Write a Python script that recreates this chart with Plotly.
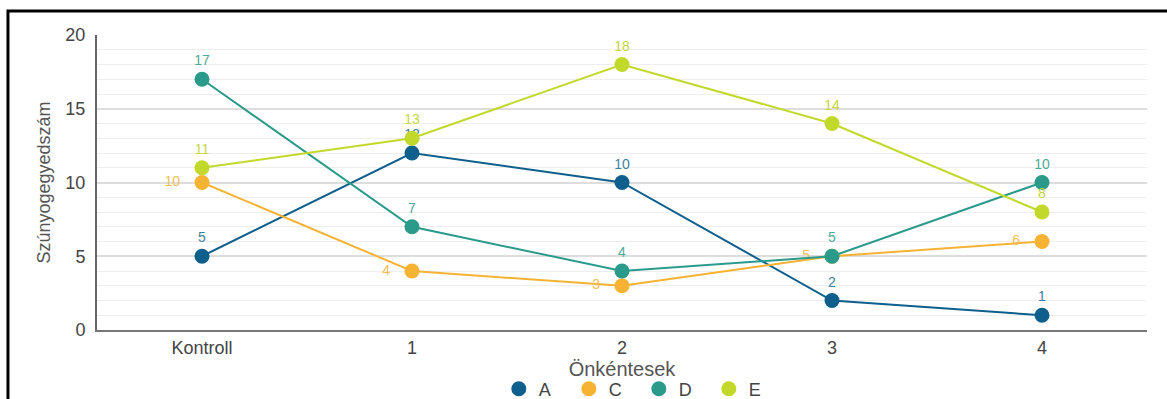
import plotly.graph_objects as go

categories = ["Kontroll", "1", "2", "3", "4"]
series_names = ["A", "C", "D", "E"]
values_a = [5, 12, 10, 2, 1]
values_c = [10, 4, 3, 5, 6]
values_d = [17, 7, 4, 5, 10]
values_e = [11, 13, 18, 14, 8]

colors = {"A": "#0f5f8c", "C": "#f6b233", "D": "#2a9a8a", "E": "#c2d92b"}
label_colors = {"A": "#3f7f9f", "C": "#f4bd55", "D": "#4fa89a", "E": "#c8d640"}
positions = {"A": "top center", "C": "middle left", "D": "top center", "E": "top center"}
# extra padding on the left-placed labels so they sit clear of the markers
label_pad = {"A": "", "C": "\u00a0\u00a0\u00a0", "D": "", "E": ""}
data = {"A": values_a, "C": values_c, "D": values_d, "E": values_e}

FONT = "Liberation Sans, Arial"

fig = go.Figure()
for name in series_names:
    vals = data[name]
    fig.add_trace(go.Scatter(
        x=categories, y=vals, name=name, mode="lines+markers+text",
        line=dict(color=colors[name], width=2),
        marker=dict(color=colors[name], size=15),
        text=[str(v) + label_pad[name] for v in vals], textposition=positions[name],
        textfont=dict(color=label_colors[name], size=14, family=FONT),
        cliponaxis=False, showlegend=False,
    ))

# marker-only legend entries
for name in series_names:
    fig.add_trace(go.Scatter(
        x=[None], y=[None], name=name, mode="markers",
        marker=dict(color=colors[name], size=15), showlegend=True,
    ))

fig.update_layout(
    width=1167, height=399,
    margin=dict(l=97, r=20, t=35, b=69, autoexpand=False),
    paper_bgcolor="white", plot_bgcolor="white",
    font=dict(family=FONT, color="#444444", size=18),
    legend=dict(orientation="h", x=0.516, xanchor="center", y=-0.2, yanchor="middle",
                font=dict(size=18, color="#444444"), itemwidth=30,
                entrywidth=25, entrywidthmode="pixels",
                traceorder="normal"),
    shapes=[dict(type="rect", xref="paper", yref="paper",
                 x0=-0.0848, x1=1.03, y0=-0.26, y1=1.0814,
                 line=dict(color="black", width=3), layer="above")],
)
fig.update_xaxes(
    type="category", range=[-0.5, 4.5],
    showgrid=False, showline=True, linecolor="#777777", linewidth=2,
    ticks="", tickfont=dict(size=18, color="#444444"),
    title=dict(text="Önkéntesek", font=dict(size=20, color="#555555"), standoff=0),
)
fig.update_yaxes(
    range=[0, 20], dtick=5,
    showgrid=True, gridcolor="#dddddd", gridwidth=1.5,
    minor=dict(dtick=1, showgrid=True, gridcolor="#eeeeee", gridwidth=1),
    showline=True, linecolor="#666666", linewidth=2,
    zeroline=False, ticks="", ticklabelstandoff=6,
    tickfont=dict(size=18, color="#444444"),
    title=dict(text="Szúnyogegyedszám", font=dict(size=18, color="#555555"), standoff=10),
)

fig.write_html("out.html")
